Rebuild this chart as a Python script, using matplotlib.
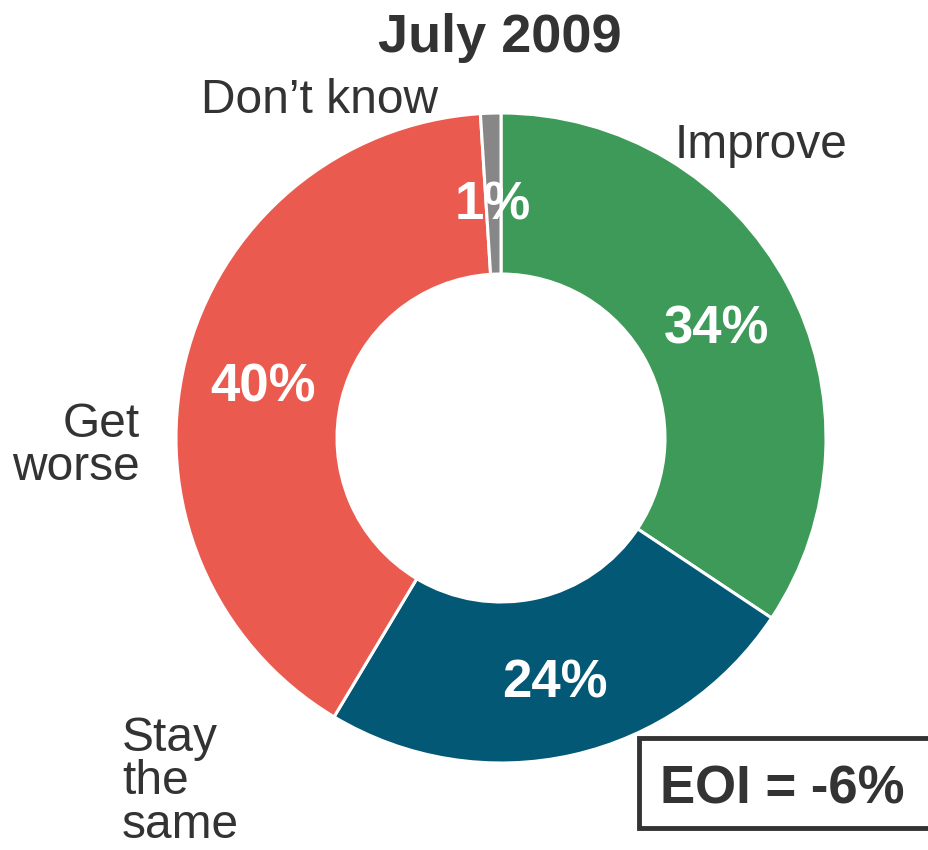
import matplotlib.pyplot as plt
import numpy as np
from matplotlib.patches import Rectangle

plt.rcParams['font.family'] = ['Liberation Sans', 'DejaVu Sans']

categories = ["Improve", "Stay the same", "Get worse", "Don\u2019t know"]
values = [34, 24, 40, 1]
pct_labels = ["34%", "24%", "40%", "1%"]
colors = ["#3d9a58", "#035875", "#eb5a4e", "#878787"]
title = "July 2009"
eoi_text = "EOI = -6%"

W, H = 929, 850
TEXT = "#333333"

fig = plt.figure(figsize=(W / 100, H / 100), dpi=100)
ax = fig.add_axes([0, 0, 1, 1])

cx, cy, r = 501, H - 438, 325
wedges, _ = ax.pie(values, colors=colors, startangle=90, counterclock=False,
                   center=(cx, cy), radius=r, frame=True,
                   wedgeprops=dict(width=161, edgecolor='white', linewidth=2.2))
ax.set_xlim(0, W)
ax.set_ylim(0, H)
ax.axis('off')

# percentage labels inside the ring
for w, lab in zip(wedges, pct_labels):
    ang = np.deg2rad((w.theta1 + w.theta2) / 2)
    rr = 245
    if lab == "1%":
        ang = np.deg2rad(92)
        rr = 240
    ax.text(cx + rr * np.cos(ang), cy + rr * np.sin(ang) - 7, lab, color='white',
            fontsize=38, fontweight='bold', ha='center', va='center')

# outer category labels
ax.text(675, H - 145, "Improve", fontsize=34.5, color=TEXT, ha='left', va='center')
ax.text(438, H - 100, "Don\u2019t know", fontsize=34.5, color=TEXT, ha='right', va='center')
ax.text(140, H - 446, "Get\nworse", fontsize=34.5, color=TEXT, ha='right', va='center',
        multialignment='right', linespacing=0.97)
ax.text(122, H - 782, "Stay\nthe\nsame", fontsize=34.5, color=TEXT, ha='left', va='center',
        linespacing=0.96)

ax.text(500, H - 38, title, fontsize=39, fontweight='bold', color=TEXT,
        ha='center', va='center')

# EOI box
ax.add_patch(Rectangle((639, H - 828), 320, 90, facecolor='white', edgecolor=TEXT,
                       linewidth=3.5, clip_on=False))
ax.text(660, H - 790, eoi_text, fontsize=38, fontweight='bold', color=TEXT,
        ha='left', va='center')

fig.savefig("out.png", dpi=100, facecolor='white')
